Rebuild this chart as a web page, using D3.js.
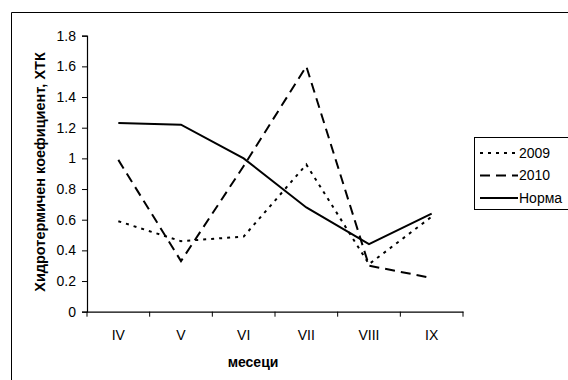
<!DOCTYPE html>
<html lang="bg">
<head>
<meta charset="UTF-8">
<title>ХТК</title>
<script src="https://d3js.org/d3.v7.min.js"></script>
<style>
  body { margin: 0; background: #fff; }
  text { font-family: "Liberation Sans", Arial, sans-serif; fill: #000; }
</style>
</head>
<body>
<script>
// months and series values
const months = ["IV", "V", "VI", "VII", "VIII", "IX"];
const s2009 = [0.59, 0.46, 0.49, 0.96, 0.31, 0.62];
const s2010 = [0.99, 0.33, 0.95, 1.60, 0.30, 0.22];
const norma = [1.23, 1.22, 1.00, 0.68, 0.44, 0.64];
const yTicks = [0, 0.2, 0.4, 0.6, 0.8, 1, 1.2, 1.4, 1.6, 1.8];

const series = [
  { name: "2009", values: s2009, dash: "3,5" },
  { name: "2010", values: s2010, dash: "10,6" },
  { name: "Норма", values: norma, dash: null }
];

const width = 568, height = 380;
const svg = d3.select("body").append("svg")
    .attr("width", width)
    .attr("height", height);

// outer chart frame (only left and top edges are visible)
svg.append("path")
    .attr("d", "M11.5,380V12.5H568")
    .attr("fill", "none")
    .attr("stroke", "#000")
    .attr("stroke-width", 1);

const plot = { left: 87, right: 463, top: 35.7, bottom: 311.7 };

const x = d3.scaleBand().domain(months).range([plot.left, plot.right]);
const y = d3.scaleLinear().domain([0, 1.8]).range([plot.bottom, plot.top]);

// y axis
const yAxis = svg.append("g")
    .attr("transform", "translate(" + plot.left + ",0)")
    .call(d3.axisLeft(y).tickValues(yTicks).tickSize(5).tickPadding(6)
        .tickFormat(d => d3.format("")(+d.toFixed(1))));
yAxis.select(".domain").attr("stroke-width", 1.2);
yAxis.selectAll("text").style("font-size", "14px").style("font-family", "Liberation Sans, Arial, sans-serif");

// x axis with ticks at band edges
const xAxis = svg.append("g")
    .attr("transform", "translate(0," + plot.bottom + ")")
    .call(d3.axisBottom(x).tickSize(0).tickPadding(18));
xAxis.select(".domain").attr("stroke-width", 1.2);
xAxis.selectAll("text").style("font-size", "14px").style("font-family", "Liberation Sans, Arial, sans-serif");
const edges = months.map(m => x(m)).concat([x(months[months.length - 1]) + x.bandwidth()]);
xAxis.selectAll(".edge")
    .data(edges)
    .enter().append("line")
    .attr("x1", d => d).attr("x2", d => d)
    .attr("y1", 0).attr("y2", 5)
    .attr("stroke", "#000");

// axis titles
svg.append("text")
    .attr("x", 253)
    .attr("y", 367)
    .attr("text-anchor", "middle")
    .style("font-size", "14px")
    .style("font-weight", "bold")
    .text("месеци");

svg.append("text")
    .attr("transform", "translate(45,172) rotate(-90)")
    .attr("text-anchor", "middle")
    .style("font-size", "14.5px")
    .style("font-weight", "bold")
    .text("Хидротермичен коефициент, ХТК");

// lines
const line = d3.line()
    .x((d, i) => x(months[i]) + x.bandwidth() / 2)
    .y(d => y(d));

svg.selectAll(".series")
    .data(series)
    .enter().append("path")
    .attr("class", "series")
    .attr("d", d => line(d.values))
    .attr("fill", "none")
    .attr("stroke", "#000")
    .attr("stroke-width", 2)
    .attr("stroke-dasharray", d => d.dash);

// legend
const legend = svg.append("g").attr("transform", "translate(474,137)");
legend.append("rect")
    .attr("x", 0.5).attr("y", 0.5)
    .attr("width", 110).attr("height", 72)
    .attr("fill", "#fff")
    .attr("stroke", "#000");
const item = legend.selectAll(".item")
    .data(series)
    .enter().append("g")
    .attr("transform", (d, i) => "translate(0," + (16 + i * 22.5) + ")");
item.append("line")
    .attr("x1", 6).attr("x2", 44)
    .attr("stroke", "#000")
    .attr("stroke-width", 2)
    .attr("stroke-dasharray", d => d.dash);
item.append("text")
    .attr("x", 45)
    .attr("dy", "0.35em")
    .style("font-size", "14px")
    .text(d => d.name);
</script>
</body>
</html>
